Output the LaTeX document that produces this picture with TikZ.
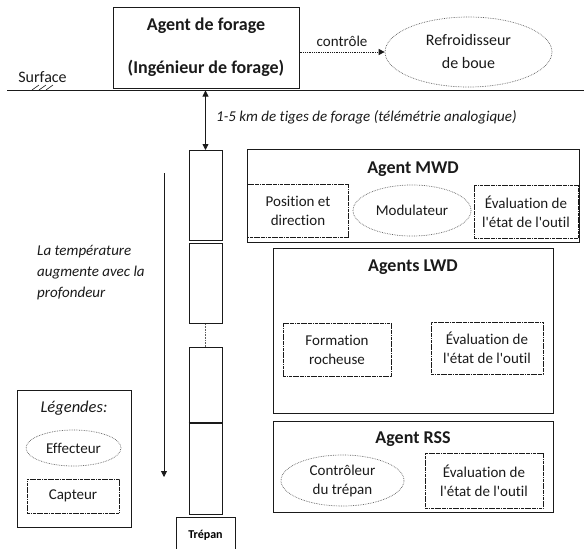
\documentclass[tikz,border=0pt]{standalone}
\usepackage{fontspec}
\setmainfont{Carlito}[Ligatures=NoCommon]
\usepackage{tikz}
\usetikzlibrary{positioning,arrows.meta,shapes.geometric}
\definecolor{FORink}{HTML}{1A1A1A}
\definecolor{FORdot}{HTML}{5E5E5E}
\newcommand{\regtxt}{\fontsize{15}{19}\selectfont}
\newcommand{\apos}{\textquotesingle}
\tikzset{
  agentbox/.style={draw=FORink, line width=1pt, inner sep=0pt, align=center, text=FORink},
  capteurbox/.style={draw=FORink, line width=0.9pt, dash pattern=on 1.8pt off 0.6pt on 0.6pt off 0.6pt, inner sep=0pt, align=center, font=\regtxt, text=FORink},
  effecteurnode/.style={ellipse, draw=FORdot, line width=0.7pt, densely dotted, inner sep=0pt, align=center, font=\regtxt, text=FORink},
  tigebox/.style={draw=FORink, line width=1pt, minimum width=33pt, inner sep=0pt},
  titlelbl/.style={font=\fontsize{18}{22}\selectfont\bfseries, text=FORink, inner sep=0pt},
  notelbl/.style={font=\fontsize{15}{21}\selectfont\itshape, text=FORink, align=left, inner sep=0pt},
  flecharr/.style={-{Triangle[length=6pt, width=6pt]}, line width=0.8pt, draw=FORink}
}

\begin{document}
\begin{tikzpicture}[x=1pt, y=-1pt]
\useasboundingbox (0,0) rectangle (584,549);
\coordinate (solg) at (7,90.5);
\coordinate (sold) at (584,90.5);
\draw[line width=1.3pt, draw=FORink] (solg) -- (sold);
\node[font=\fontsize{16}{19}\selectfont, text=FORink, inner sep=0pt] (surf) at (42.5,77) {Surface};
\foreach \i in {0,1,2} \draw[line width=0.6pt, draw=FORink] (32+7*\i,90) -- ++(7,-5);

\node[agentbox, minimum width=186pt, minimum height=81pt, font=\fontsize{18}{22}\selectfont\bfseries] (forage) at (206,47.5) {Agent de forage\\[21pt](Ingénieur de forage)};
\node[effecteurnode, minimum width=167pt, minimum height=70pt, font=\fontsize{16}{23}\selectfont] (refroid) at (468.5,52) {Refroidisseur\\de boue};
\draw[flecharr, densely dotted] (forage.east |- refroid.west) -- node[above=5pt, font=\regtxt, text=FORink, inner sep=0pt] (ctrl) {contrôle} (refroid.west);

\node[tigebox, minimum height=90pt, anchor=north] (tige1) at (205.5,150) {};
\node[tigebox, minimum height=80pt, below=2pt of tige1] (tige2) {};
\node[tigebox, minimum height=75pt, below=23pt of tige2] (tige3) {};
\node[tigebox, minimum height=91pt, below=0pt of tige3] (tige4) {};
\node[tigebox, minimum width=59pt, minimum height=35pt, below=2pt of tige4, font=\fontsize{12}{14}\selectfont\bfseries] (trepan) {Trépan};
\draw[line width=1.8pt, draw=FORink] (tige4.north west) -- (tige4.north east);
\draw[densely dotted, draw=FORdot, line width=0.6pt] (tige2.south) -- (tige3.north);
\draw[{Triangle[length=6pt, width=6pt]}-{Triangle[length=6pt, width=6pt]}, line width=0.8pt, draw=FORink] (solg -| tige1.north) -- (tige1.north);
\node[notelbl, anchor=west] (tiges) at (216,117) {1-5 km de tiges de forage (télémétrie analogique)};

\coordinate (temph) at (164,173);
\coordinate (tempb) at (164,477);
\draw[flecharr] (temph) -- (tempb);
\node[notelbl, anchor=west] (temp) at (37,273) {La température\\augmente avec la\\profondeur};

\node[agentbox, minimum width=114pt, minimum height=137pt] (legende) at (74,458.5) {};
\node[notelbl, font=\fontsize{16.5}{20}\selectfont\itshape] (legtitre) at (74,408) {Légendes:};
\node[effecteurnode, minimum width=95pt, minimum height=36pt] (legeff) at (73.5,448) {Effecteur};
\node[capteurbox, minimum width=92pt, minimum height=34pt] (legcap) at (73,496) {Capteur};

\node[agentbox, minimum width=332pt, minimum height=93pt] (mwd) at (413,195.5) {};
\node[titlelbl] (mwdt) at (413,169) {Agent MWD};
\node[capteurbox, minimum width=101pt, minimum height=53pt] (mwdpos) at (298,210.5) {Position et\\direction};
\node[effecteurnode, minimum width=118pt, minimum height=51pt] (mwdmod) at (412,210.5) {Modulateur};
\node[capteurbox, minimum width=104pt, minimum height=53pt] (mwdeval) at (526,211.5) {Évaluation de\\l\apos état de l\apos outil};

\node[agentbox, minimum width=280pt, minimum height=165pt] (lwd) at (413,330.5) {};
\node[titlelbl] (lwdt) at (413,267) {Agents LWD};
\node[capteurbox, minimum width=108pt, minimum height=53pt] (lwdform) at (337,349.5) {Formation\\rocheuse};
\node[capteurbox, minimum width=112pt, minimum height=52pt] (lwdeval) at (487,348) {Évaluation de\\l\apos état de l\apos outil};

\node[agentbox, minimum width=280pt, minimum height=91pt] (rss) at (413,466.5) {};
\node[titlelbl] (rsst) at (413,439) {Agent RSS};
\node[effecteurnode, minimum width=123pt, minimum height=51pt] (rssctrl) at (342.5,480.5) {Contrôleur\\du trépan};
\node[capteurbox, minimum width=118pt, minimum height=55pt] (rsseval) at (484,480.5) {Évaluation de\\l\apos état de l\apos outil};
\end{tikzpicture}
\end{document}
